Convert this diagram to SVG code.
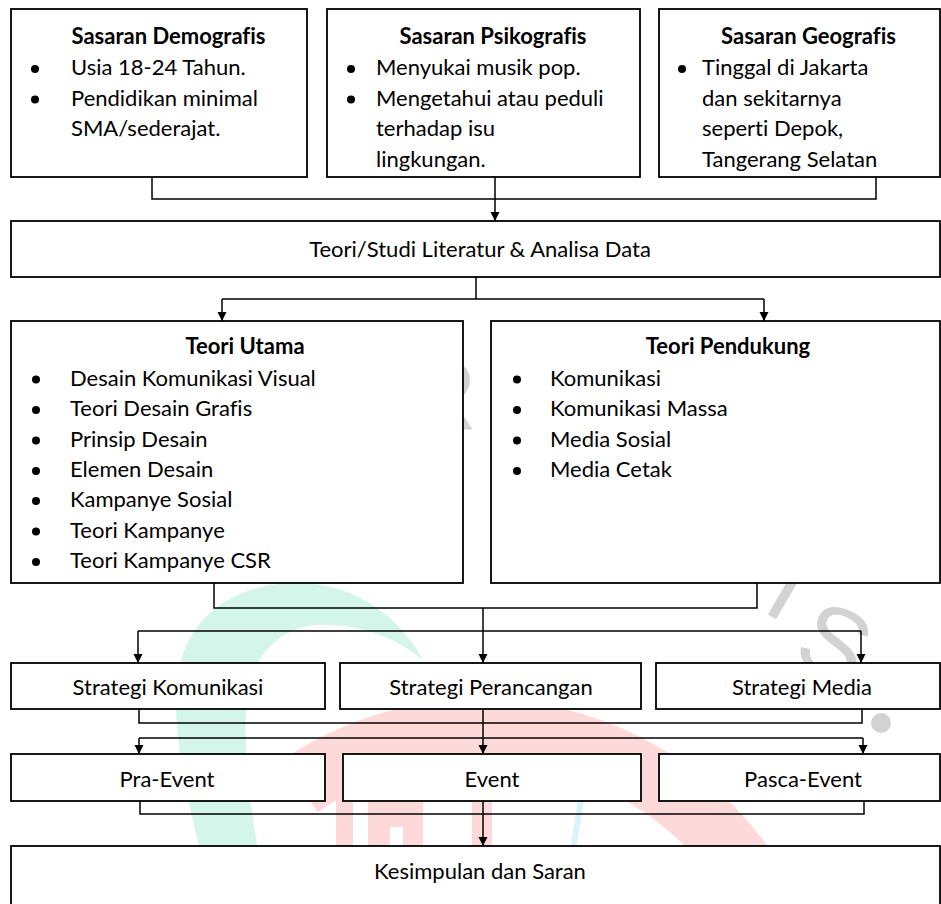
<svg xmlns="http://www.w3.org/2000/svg" width="941" height="904" viewBox="0 0 941 904">
<style>
.box{fill:#fff;stroke:#000;stroke-width:1.8}
.t{font-family:Lato,"Liberation Sans",sans-serif;font-size:22px;fill:#000;font-variant-ligatures:none;font-feature-settings:"liga" 0,"dlig" 0}
.b{font-weight:700}
.c{text-anchor:middle}
.dot{fill:#000}
.con{fill:none;stroke:#000;stroke-width:1.5}
.wm{font-family:"Liberation Sans",sans-serif;font-size:100px;fill:#d2d2d2}
</style>
<defs>
<marker id="ah" markerWidth="10" markerHeight="10" refX="9" refY="4.5" orient="auto" markerUnits="userSpaceOnUse">
<path d="M0,0 L9,4.5 L0,9 Z" fill="#000"/>
</marker>
</defs>
<rect width="941" height="904" fill="#fff"/>
<g id="watermark">
<path d="M423,660 C390,600 330,575 270,585 C200,598 172,650 176,710 C178,760 190,810 205,870 L262,870 C250,810 244,760 246,710 C248,660 275,630 315,625 C360,622 400,640 423,660 Z" fill="#d3f5ea"/>
<path d="M300,786 A321.5,321.5 0 0 1 764,900" fill="none" stroke="#fdd9da" stroke-width="63"/>
<rect x="336" y="772" width="17" height="90" fill="#fdd9da"/>
<path d="M368,790 H423 V870 H403 V827 H390 V870 H368 Z" fill="#fdd9da"/>
<rect x="472" y="790" width="20" height="80" fill="#fdd9da"/>
<path d="M578,800 L584,800 L576,850 L570,850 Z" fill="#d8f3fc"/>
<circle cx="881" cy="723" r="10" fill="#d2d2d2"/>
<text class="wm" x="405" y="430">R</text>
<text class="wm" transform="translate(790,660) rotate(25)">S</text>
<text class="wm" transform="translate(760,610) rotate(30)">I</text>
</g>
<g id="connectors">
<path class="con" d="M152,177 V199 H876 V177"/>
<path class="con" d="M495,177 V221" marker-end="url(#ah)"/>
<path class="con" d="M476,277 V299 M222,299 H764"/>
<path class="con" d="M222,299 V321" marker-end="url(#ah)"/>
<path class="con" d="M764,299 V321" marker-end="url(#ah)"/>
<path class="con" d="M214,583 V608 H757 V583"/>
<path class="con" d="M483,608 V663" marker-end="url(#ah)"/>
<path class="con" d="M138,631 H861"/>
<path class="con" d="M138,631 V663" marker-end="url(#ah)"/>
<path class="con" d="M861,631 V663" marker-end="url(#ah)"/>
<path class="con" d="M139,709 V723 H862 V709"/>
<path class="con" d="M483,709 V754" marker-end="url(#ah)"/>
<path class="con" d="M139,738 H863"/>
<path class="con" d="M139,738 V754" marker-end="url(#ah)"/>
<path class="con" d="M863,738 V754" marker-end="url(#ah)"/>
<path class="con" d="M140,801 V814 H864 V801"/>
<path class="con" d="M483,801 V846" marker-end="url(#ah)"/>
</g>
<g id="sasaran-demografis">
<rect class="box" x="11" y="9" width="296" height="168"/>
<text class="t b c" x="168.5" y="44">Sasaran Demografis</text>
<circle class="dot" cx="35" cy="69" r="4"/>
<text class="t" x="71" y="75">Usia 18-24 Tahun.</text>
<circle class="dot" cx="35" cy="99.5" r="4"/>
<text class="t" x="71" y="105.5">Pendidikan minimal</text>
<text class="t" x="71" y="136">SMA/sederajat.</text>
</g>
<g id="sasaran-psikografis">
<rect class="box" x="327" y="9" width="313" height="168"/>
<text class="t b c" x="493" y="44">Sasaran Psikografis</text>
<circle class="dot" cx="351" cy="69" r="4"/>
<text class="t" x="376" y="75">Menyukai musik pop.</text>
<circle class="dot" cx="351" cy="99.5" r="4"/>
<text class="t" x="376" y="105.5">Mengetahui atau peduli</text>
<text class="t" x="376" y="136">terhadap isu</text>
<text class="t" x="376" y="166.5">lingkungan.</text>
</g>
<g id="sasaran-geografis">
<rect class="box" x="659" y="9" width="281" height="168"/>
<text class="t b c" x="808.5" y="44">Sasaran Geografis</text>
<circle class="dot" cx="682" cy="69" r="4"/>
<text class="t" x="702" y="75">Tinggal di Jakarta</text>
<text class="t" x="702" y="105.5">dan sekitarnya</text>
<text class="t" x="702" y="136">seperti Depok,</text>
<text class="t" x="702" y="166.5">Tangerang Selatan</text>
</g>
<g id="teori-studi">
<rect class="box" x="11" y="221" width="929" height="56"/>
<text class="t c" x="480" y="257">Teori/Studi Literatur &amp; Analisa Data</text>
</g>
<g id="teori-utama">
<rect class="box" x="11" y="321" width="452" height="262"/>
<text class="t b c" x="245" y="354">Teori Utama</text>
<circle class="dot" cx="36" cy="379.5" r="4"/>
<text class="t" x="70" y="385.5">Desain Komunikasi Visual</text>
<circle class="dot" cx="36" cy="410" r="4"/>
<text class="t" x="70" y="416">Teori Desain Grafis</text>
<circle class="dot" cx="36" cy="440.5" r="4"/>
<text class="t" x="70" y="446.5">Prinsip Desain</text>
<circle class="dot" cx="36" cy="471" r="4"/>
<text class="t" x="70" y="477">Elemen Desain</text>
<circle class="dot" cx="36" cy="501" r="4"/>
<text class="t" x="70" y="507">Kampanye Sosial</text>
<circle class="dot" cx="36" cy="531.5" r="4"/>
<text class="t" x="70" y="537.5">Teori Kampanye</text>
<circle class="dot" cx="36" cy="562" r="4"/>
<text class="t" x="70" y="568">Teori Kampanye CSR</text>
</g>
<g id="teori-pendukung">
<rect class="box" x="491" y="321" width="449" height="262"/>
<text class="t b c" x="728" y="354">Teori Pendukung</text>
<circle class="dot" cx="517" cy="379.5" r="4"/>
<text class="t" x="550" y="385.5">Komunikasi</text>
<circle class="dot" cx="517" cy="410" r="4"/>
<text class="t" x="550" y="416">Komunikasi Massa</text>
<circle class="dot" cx="517" cy="440.5" r="4"/>
<text class="t" x="550" y="446.5">Media Sosial</text>
<circle class="dot" cx="517" cy="471" r="4"/>
<text class="t" x="550" y="477">Media Cetak</text>
</g>
<g id="strategi-komunikasi">
<rect class="box" x="11" y="663" width="314" height="46"/>
<text class="t c" x="168" y="695">Strategi Komunikasi</text>
</g>
<g id="strategi-perancangan">
<rect class="box" x="340" y="663" width="301" height="46"/>
<text class="t c" x="491" y="695">Strategi Perancangan</text>
</g>
<g id="strategi-media">
<rect class="box" x="656" y="663" width="284" height="46"/>
<text class="t c" x="802" y="695">Strategi Media</text>
</g>
<g id="pra-event">
<rect class="box" x="11" y="754" width="314" height="47"/>
<text class="t c" x="167" y="787">Pra-Event</text>
</g>
<g id="event">
<rect class="box" x="343" y="754" width="298" height="47"/>
<text class="t c" x="492" y="787">Event</text>
</g>
<g id="pasca-event">
<rect class="box" x="659" y="754" width="281" height="47"/>
<text class="t c" x="803" y="787">Pasca-Event</text>
</g>
<g id="kesimpulan">
<rect class="box" x="11" y="846" width="929" height="70"/>
<text class="t c" x="480" y="879">Kesimpulan dan Saran</text>
</g>
</svg>
